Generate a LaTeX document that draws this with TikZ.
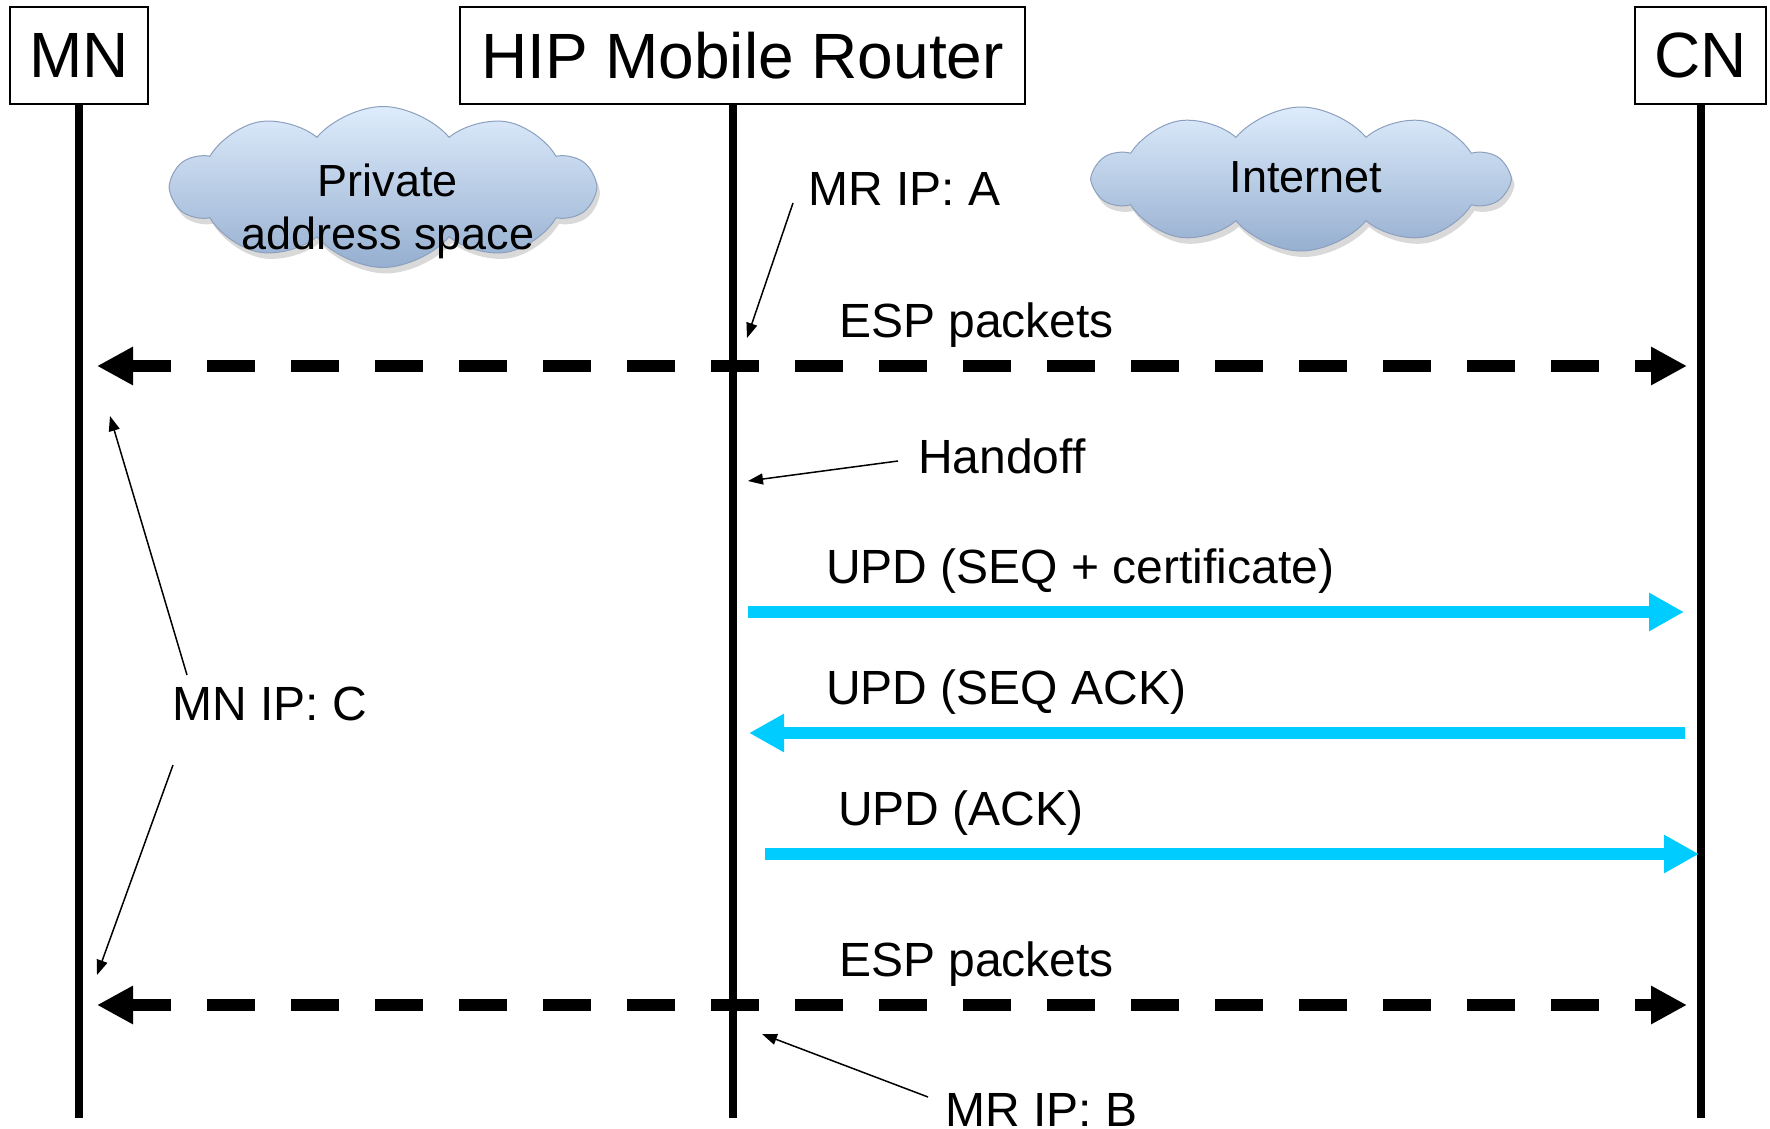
\documentclass[tikz,border=0pt]{standalone}
\usepackage{fontspec}
\setmainfont{Liberation Sans}
\usetikzlibrary{positioning,arrows.meta,shapes.symbols,shadows}

\definecolor{updcyan}{RGB}{0,204,255}
\definecolor{cloudtop}{RGB}{222,236,252}
\definecolor{cloudbot}{RGB}{150,175,208}
\definecolor{cloudedge}{RGB}{140,160,190}

\begin{document}
\begin{tikzpicture}
[x=1pt, y=-1pt,
entity/.style = {draw, line width=2pt, inner sep=0pt, minimum height=97pt, font=\fontsize{64}{77}\selectfont},
lifeline/.style = {line width=8pt},
esp/.style = {line width=12pt, dash pattern=on 48pt off 36pt, dash phase=8pt, {Triangle[length=36pt,width=36pt]}-{Triangle[length=36pt,width=36pt]}},
upd/.style = {updcyan, line width=12pt, -{Triangle[length=35pt,width=36pt]}},
pointer/.style = {line width=1.5pt, -{Triangle[length=15pt,width=11pt]}},
lbl/.style = {anchor=base west, inner sep=0pt, font=\fontsize{48}{58}\selectfont},
net/.style = {cloud, cloud puffs=10, cloud puff arc=100, cloud ignores aspect, draw=cloudedge, line width=1pt, top color=cloudtop, bottom color=cloudbot, drop shadow={shadow xshift=3pt, shadow yshift=-6pt, opacity=0.3}},
nettext/.style = {align=center, inner sep=0pt, font=\fontsize{45}{53}\selectfont}]

\useasboundingbox (0,0) rectangle (1770,1129);

% entities
\node[entity, minimum width=138pt] (mn) at (79,55.5) {MN};
\node[entity, minimum width=565pt] (hip) at (742.5,55.5) {HIP Mobile Router};
\node[entity, minimum width=131pt] (cn) at (1700.5,55.5) {CN};

\draw[lifeline] (mn.south) -- ++(0,1013);
\draw[lifeline] ([xshift=-9.5pt]hip.south) -- ++(0,1013);
\draw[lifeline] (cn.south) -- ++(0,1013);

% address spaces
\node[net, minimum width=422pt, minimum height=161pt] (pvcloud) at (383,187) {};
\node[nettext] (pvtext) at (388,211) {Private\\address space};
\node[net, minimum width=413pt, minimum height=144pt] (inetcloud) at (1301,179) {};
\node[nettext, anchor=base] (inettext) at (1306,192) {Internet};

% messages
\coordinate (espAl) at (97,366);
\coordinate (espAr) at (1687,366);
\draw[esp] (espAl) -- (espAr);
\node[lbl] (espA) at (839,337) {ESP packets};

\coordinate (seqS) at (748,612);
\coordinate (seqT) at (1684,612);
\draw[upd] (seqS) -- (seqT);
\node[lbl] (seq) at (826,583) {UPD (SEQ + certificate)};

\coordinate (seqackS) at (1685,733);
\coordinate (seqackT) at (749,733);
\draw[upd] (seqackS) -- (seqackT);
\node[lbl] (seqack) at (826,704) {UPD (SEQ ACK)};

\coordinate (ackS) at (765,854);
\coordinate (ackT) at (1699,854);
\draw[upd] (ackS) -- (ackT);
\node[lbl] (ack) at (838,825) {UPD (ACK)};

\coordinate (espBl) at (97,1005);
\coordinate (espBr) at (1687,1005);
\draw[esp] (espBl) -- (espBr);
\node[lbl] (espB) at (839,976) {ESP packets};

% addresses
\node[lbl] (mra) at (808,205) {MR IP: A};
\coordinate (mraS) at (793,203);
\coordinate (mraT) at (747,338);
\draw[pointer] (mraS) -- (mraT);

\node[lbl] (handoff) at (918,473) {Handoff};
\coordinate (handoffS) at (898,461);
\coordinate (handoffT) at (748,481);
\draw[pointer] (handoffS) -- (handoffT);

\node[lbl] (mnc) at (172,720) {MN IP: C};
\coordinate (mncUpS) at (187,675);
\coordinate (mncUpT) at (110,416);
\coordinate (mncDnS) at (173,765);
\coordinate (mncDnT) at (97,975);
\draw[pointer] (mncUpS) -- (mncUpT);
\draw[pointer] (mncDnS) -- (mncDnT);

\node[lbl] (mrb) at (945,1126) {MR IP: B};
\coordinate (mrbS) at (928,1097);
\coordinate (mrbT) at (762,1034);
\draw[pointer] (mrbS) -- (mrbT);
\end{tikzpicture}
\end{document}
